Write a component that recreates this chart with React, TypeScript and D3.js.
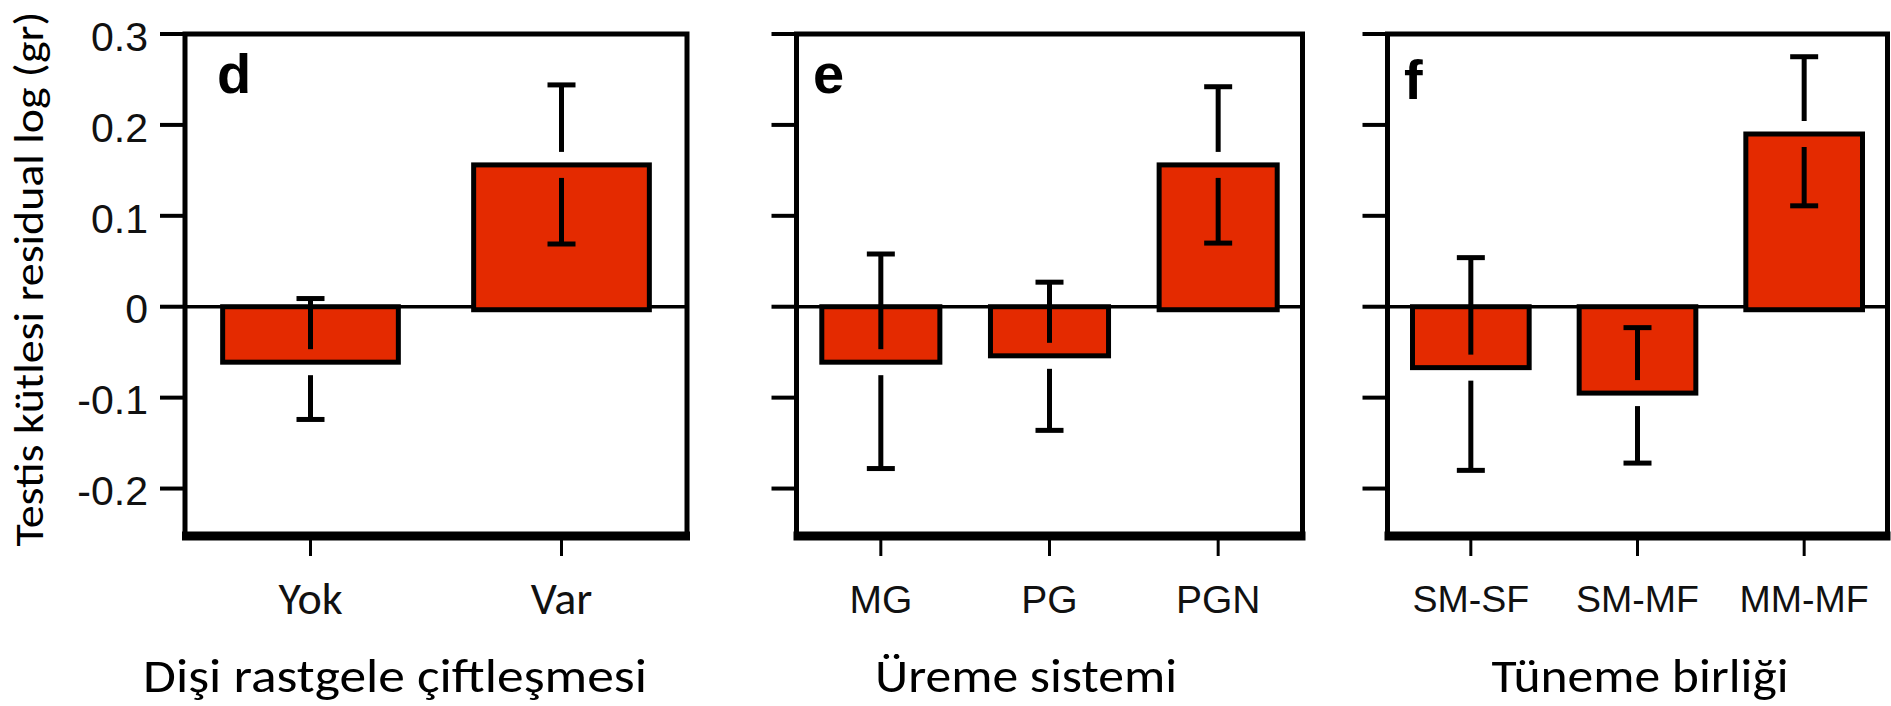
import * as d3 from 'd3';
import React, { useEffect } from 'react';

// y axis (shared by all three panels)
const yTicks = [0.3, 0.2, 0.1, 0, -0.1, -0.2];
const yTickLabels = ['0.3', '0.2', '0.1', '0', '-0.1', '-0.2'];
const yAxisTitle = 'Testis kütlesi residual log (gr)';

// panel d
const matingCategories = ['Yok', 'Var'];
const matingMeans = [-0.061, 0.156];
const matingUpper = [0.009, 0.244];
const matingLower = [-0.124, 0.069];

// panel e
const breedingCategories = ['MG', 'PG', 'PGN'];
const breedingMeans = [-0.061, -0.054, 0.156];
const breedingUpper = [0.058, 0.027, 0.242];
const breedingLower = [-0.178, -0.136, 0.07];

// panel f
const roostCategories = ['SM-SF', 'SM-MF', 'MM-MF'];
const roostMeans = [-0.067, -0.095, 0.19];
const roostUpper = [0.054, -0.023, 0.275];
const roostLower = [-0.18, -0.172, 0.111];

const panelLetters = ['d', 'e', 'f'];
const groupTitles = ['Dişi rastgele çiftleşmesi', 'Üreme sistemi', 'Tüneme birliği'];

const W = 1891;
const H = 706;
const BAR_RED = '#e42a00';
const CALIBRI = "Carlito, Calibri, Lato, 'Open Sans', sans-serif";
const ARIAL = "'Liberation Sans', Arial, Helvetica, sans-serif";

export default function App() {
  const ref = React.useRef<SVGSVGElement>(null);

  useEffect(() => {
    if (!ref.current) return;
    const svg = d3.select(ref.current);
    svg.selectAll('*').remove();

    const top = 34;
    const bottom = 534;
    const y = d3.scaleLinear().domain([-0.25, 0.3]).range([bottom, top]);

    const panels = [
      {
        cats: matingCategories, means: matingMeans, hi: matingUpper, lo: matingLower,
        x0: 185, x1: 687, tickFont: CALIBRI, tickSize: 46, tickBase: 614,
        letterX: 217, letterY: 93, titleX: 395, titleLen: 504, showLabels: true,
      },
      {
        cats: breedingCategories, means: breedingMeans, hi: breedingUpper, lo: breedingLower,
        x0: 796.5, x1: 1302.5, tickFont: ARIAL, tickSize: 39, tickBase: 613,
        letterX: 813, letterY: 93, titleX: 1026, titleLen: 302, showLabels: false,
      },
      {
        cats: roostCategories, means: roostMeans, hi: roostUpper, lo: roostLower,
        x0: 1387.5, x1: 1887.5, tickFont: ARIAL, tickSize: 37.5, tickBase: 612,
        letterX: 1404, letterY: 99, titleX: 1640, titleLen: 297, showLabels: false,
      },
    ];

    panels.forEach((p, pi) => {
      const g = svg.append('g');
      const x = d3
        .scaleBand()
        .domain(p.cats)
        .range([p.x0, p.x1])
        .paddingInner(0.3)
        .paddingOuter(0.15);

      // y ticks
      g.selectAll('line.ytick')
        .data(yTicks)
        .enter()
        .append('line')
        .attr('x1', p.x0 - 25)
        .attr('x2', p.x0)
        .attr('y1', d => y(d))
        .attr('y2', d => y(d))
        .attr('stroke', '#000')
        .attr('stroke-width', 4);

      if (p.showLabels) {
        g.selectAll('text.ylab')
          .data(yTicks)
          .enter()
          .append('text')
          .attr('x', p.x0 - 37)
          .attr('y', d => y(d) + 2)
          .attr('dy', '0.36em')
          .attr('text-anchor', 'end')
          .attr('font-family', ARIAL)
          .attr('font-size', 41)
          .attr('fill', '#111')
          .text((d, i) => yTickLabels[i]);
      }

      // zero line
      g.append('line')
        .attr('x1', p.x0)
        .attr('x2', p.x1)
        .attr('y1', y(0))
        .attr('y2', y(0))
        .attr('stroke', '#000')
        .attr('stroke-width', 3.5);

      const rows = p.cats.map((c, i) => ({ c, m: p.means[i], hi: p.hi[i], lo: p.lo[i] }));

      // bars (positive bars sit a few px below the zero line, as in the original)
      g.selectAll('rect.bar')
        .data(rows)
        .enter()
        .append('rect')
        .attr('x', d => x(d.c) ?? 0)
        .attr('width', x.bandwidth())
        .attr('y', d => Math.min(y(0), y(d.m)))
        .attr('height', d => Math.abs(y(d.m) - y(0)) + (d.m > 0 ? 3 : 0))
        .attr('fill', BAR_RED)
        .attr('stroke', '#000')
        .attr('stroke-width', 5);

      // error bars, broken around the bar end like the original
      const gap = 13;
      const cap = 28;
      rows.forEach(d => {
        const cx = (x(d.c) ?? 0) + x.bandwidth() / 2;
        const yh = y(d.hi);
        const yl = y(d.lo);
        const ym = y(d.m);
        const segs: [number, number][] = [];
        if (yh < ym - gap) segs.push([yh, Math.min(ym - gap, yl)]);
        if (yl > ym + gap) segs.push([Math.max(ym + gap, yh), yl]);
        segs.forEach(s => {
          g.append('line')
            .attr('x1', cx).attr('x2', cx)
            .attr('y1', s[0]).attr('y2', s[1])
            .attr('stroke', '#000')
            .attr('stroke-width', 5);
        });
        [yh, yl].forEach(yy => {
          g.append('line')
            .attr('x1', cx - cap / 2).attr('x2', cx + cap / 2)
            .attr('y1', yy).attr('y2', yy)
            .attr('stroke', '#000')
            .attr('stroke-width', 5);
        });
      });

      // frame
      g.append('path')
        .attr('d', `M${p.x0},${bottom}V${top}H${p.x1}V${bottom}`)
        .attr('fill', 'none')
        .attr('stroke', '#000')
        .attr('stroke-width', 5);
      g.append('line')
        .attr('x1', p.x0 - 3)
        .attr('x2', p.x1 + 3)
        .attr('y1', bottom + 2)
        .attr('y2', bottom + 2)
        .attr('stroke', '#000')
        .attr('stroke-width', 9);

      // x ticks + labels
      g.selectAll('line.xtick')
        .data(p.cats)
        .enter()
        .append('line')
        .attr('x1', d => (x(d) ?? 0) + x.bandwidth() / 2)
        .attr('x2', d => (x(d) ?? 0) + x.bandwidth() / 2)
        .attr('y1', bottom + 6)
        .attr('y2', bottom + 22)
        .attr('stroke', '#000')
        .attr('stroke-width', 3);
      g.selectAll('text.xlab')
        .data(p.cats)
        .enter()
        .append('text')
        .attr('x', d => (x(d) ?? 0) + x.bandwidth() / 2)
        .attr('y', p.tickBase)
        .attr('text-anchor', 'middle')
        .attr('font-family', p.tickFont)
        .attr('font-size', p.tickSize)
        .attr('fill', '#111')
        .text(d => d);

      // panel letter
      g.append('text')
        .attr('x', p.letterX)
        .attr('y', p.letterY)
        .attr('font-family', ARIAL)
        .attr('font-weight', 'bold')
        .attr('font-size', 56)
        .attr('fill', '#000')
        .text(panelLetters[pi]);

      // group title
      g.append('text')
        .attr('x', p.titleX)
        .attr('y', 692)
        .attr('text-anchor', 'middle')
        .attr('font-family', CALIBRI)
        .attr('font-size', 47)
        .attr('textLength', p.titleLen)
        .attr('lengthAdjust', 'spacingAndGlyphs')
        .attr('fill', '#000')
        .text(groupTitles[pi]);
    });

    // y axis title
    svg
      .append('text')
      .attr('transform', 'translate(43,279) rotate(-90)')
      .attr('text-anchor', 'middle')
      .attr('font-family', CALIBRI)
      .attr('font-size', 42)
      .attr('textLength', 535)
      .attr('lengthAdjust', 'spacingAndGlyphs')
      .attr('fill', '#000')
      .text(yAxisTitle);
  }, []);

  return (
    <svg
      ref={ref}
      width={W}
      height={H}
      style={{ position: 'absolute', left: 0, top: 0, background: '#fff' }}
    />
  );
}
